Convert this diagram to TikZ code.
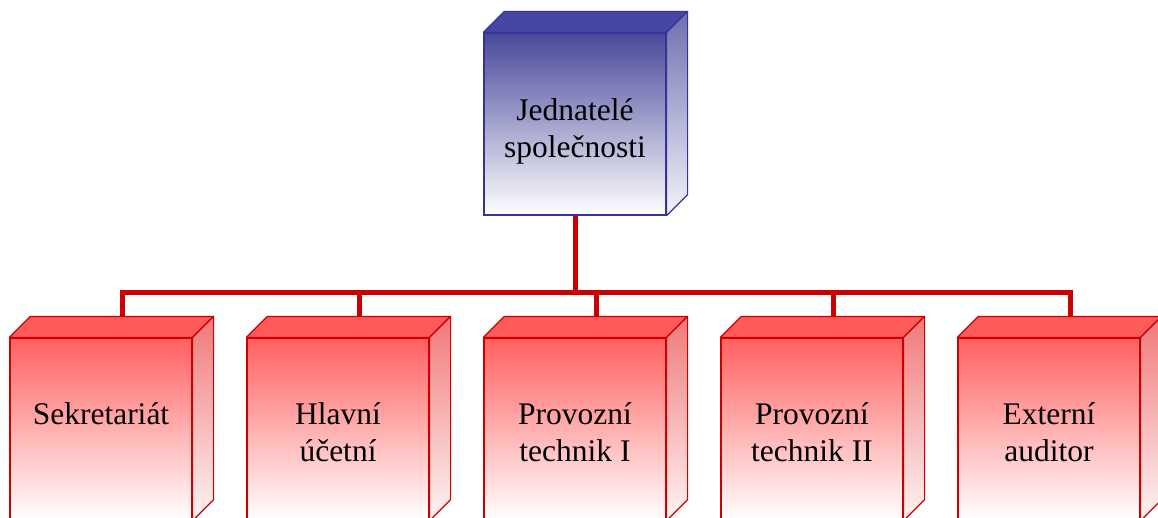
\documentclass[tikz,border=0pt]{standalone}
\usepackage{fontspec}
\setmainfont{Liberation Serif}
\usepackage{xcolor}
\usepackage{tikz}
\usetikzlibrary{positioning,calc}

\definecolor{bossedge}{RGB}{51,51,153}
\definecolor{bosstop}{RGB}{72,72,155}
\definecolor{bossroof}{RGB}{70,70,165}
\definecolor{bossside}{RGB}{110,110,175}
\definecolor{unitedge}{RGB}{204,0,0}
\definecolor{unittop}{RGB}{255,96,96}
\definecolor{unitroof}{RGB}{255,90,90}
\definecolor{unitside}{RGB}{240,120,120}

% top and side faces of a box, drawn behind its front node
\newcommand{\boxsides}[4]{%
  \filldraw[draw=#4,fill=#2,line width=1.2pt,line join=round]
    (#1.north west) -- ++(21,-21) -- ($(#1.north east)+(21,-21)$) -- (#1.north east) -- cycle;
  \shadedraw[draw=#4,top color=#3,bottom color=white!92!#3,line width=1.2pt,line join=round]
    (#1.north east) -- ++(21,-21) -- ($(#1.south east)+(21,-21)$) -- (#1.south east) -- cycle;
}

\begin{document}
\begin{tikzpicture}[x=1pt,y=-1pt,
    face/.style={rectangle,minimum width=182pt,minimum height=182pt,inner sep=0pt,line width=1.2pt,bottom color=white},
    bossface/.style={face,draw=bossedge,top color=bosstop},
    unitface/.style={face,draw=unitedge,top color=unittop},
    caption/.style={anchor=north,align=center,inner sep=0pt,font=\fontsize{31.5}{37}\selectfont},
    link/.style={draw=unitedge,line width=5pt}]
  \useasboundingbox (0,0) rectangle (1158,518);

  \node[bossface] (boss) at (575,124) {};
  \node[unitface,on grid,below=305pt of boss] (tech1) {};
  \node[unitface,on grid,left=237pt of tech1] (ucet) {};
  \node[unitface,on grid,left=237pt of ucet] (sekr) {};
  \node[unitface,on grid,right=237pt of tech1] (tech2) {};
  \node[unitface,on grid,right=237pt of tech2] (audit) {};

  \coordinate (fork) at ($(boss.south)+(0,77)$);
  \coordinate (sekr-back) at ($(sekr.north)+(21,-21)$);
  \coordinate (ucet-back) at ($(ucet.north)+(21,-21)$);
  \coordinate (tech1-back) at ($(tech1.north)+(21,-21)$);
  \coordinate (tech2-back) at ($(tech2.north)+(21,-21)$);
  \coordinate (audit-back) at ($(audit.north)+(21,-21)$);

  \draw[link] (boss.south) -- (fork);
  \draw[link] (fork) -| (sekr-back);
  \draw[link] (fork) -| (ucet-back);
  \draw[link] (fork) -| (tech1-back);
  \draw[link] (fork) -| (tech2-back);
  \draw[link] (fork) -| (audit-back);

  \boxsides{boss}{bossroof}{bossside}{bossedge}
  \boxsides{sekr}{unitroof}{unitside}{unitedge}
  \boxsides{ucet}{unitroof}{unitside}{unitedge}
  \boxsides{tech1}{unitroof}{unitside}{unitedge}
  \boxsides{tech2}{unitroof}{unitside}{unitedge}
  \boxsides{audit}{unitroof}{unitside}{unitedge}

  \node[caption] (boss-text) at ($(boss.north)+(0,66)$) {Jednatelé\\společnosti};
  \node[caption] (sekr-text) at ($(sekr.north)+(0,65)$) {Sekretariát};
  \node[caption] (ucet-text) at ($(ucet.north)+(0,65)$) {Hlavní\\účetní};
  \node[caption] (tech1-text) at ($(tech1.north)+(0,65)$) {Provozní\\technik I};
  \node[caption] (tech2-text) at ($(tech2.north)+(0,65)$) {Provozní\\technik II};
  \node[caption] (audit-text) at ($(audit.north)+(0,65)$) {Externí\\auditor};
\end{tikzpicture}
\end{document}
